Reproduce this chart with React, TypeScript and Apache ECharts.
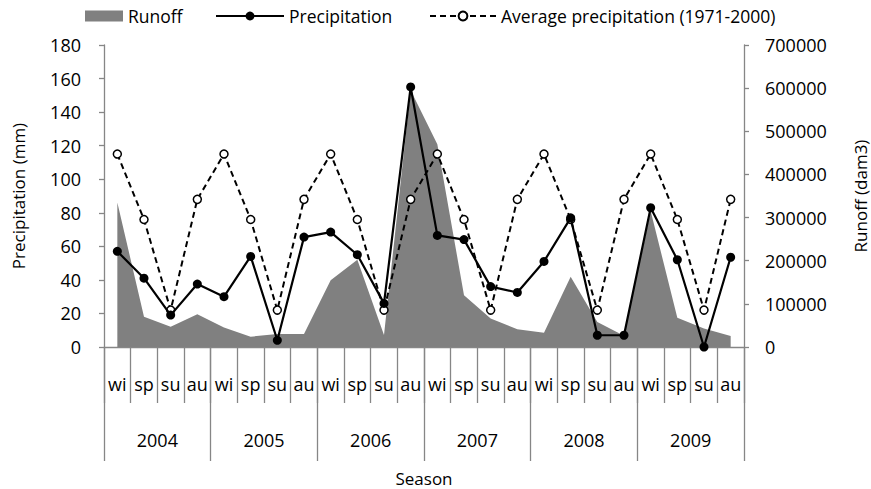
import React, { useEffect, useRef } from "react";
import * as echarts from "echarts";

const seasons = [
  "wi", "sp", "su", "au", "wi", "sp", "su", "au", "wi", "sp", "su", "au",
  "wi", "sp", "su", "au", "wi", "sp", "su", "au", "wi", "sp", "su", "au",
];
const years = ["2004", "2005", "2006", "2007", "2008", "2009"];

// Seasonal runoff (dam3), right axis
const runoff = [
  335000, 70000, 47000, 76000, 45000, 24000, 30000, 30000, 155000, 202000, 28000, 595000,
  470000, 120000, 66000, 41000, 33000, 163000, 58000, 26000, 315000, 68000, 43000, 25500,
];
// Seasonal precipitation (mm), left axis
const precipitation = [
  57, 41, 19, 37.5, 30, 54, 4, 65.5, 68.5, 55, 26, 155,
  66.5, 64, 36, 32.5, 51, 77, 7, 7, 83, 52, 0, 53.5,
];
// Long-term seasonal mean precipitation 1971-2000 (mm)
const avgPrecipitation = [
  115, 76, 22, 88, 115, 76, 22, 88, 115, 76, 22, 88,
  115, 76, 22, 88, 115, 76, 22, 88, 115, 76, 22, 88,
];

const FONT = "Open Sans";
const AXIS_GRAY = "#868686";

export default function App() {
  const ref = useRef<HTMLDivElement>(null);

  useEffect(() => {
    if (!ref.current) return;
    const chart = echarts.init(ref.current, null, { renderer: "svg" });
    const textStyle = { fontFamily: FONT, fontSize: 18, color: "#000" };
    const legendText = { ...textStyle, fontSize: 17.5 };
    chart.setOption({
      animation: false,
      textStyle,
      grid: { left: 104, right: 127, top: 45, bottom: 142, outerBoundsMode: "none" },
      legend: [
        {
          data: ["Runoff"],
          left: 80,
          top: 2,
          icon: "rect",
          itemWidth: 38,
          itemHeight: 11,
          itemGap: 6,
          textStyle: legendText,
        },
        {
          data: ["Precipitation"],
          left: 210,
          top: 2,
          itemWidth: 68,
          itemHeight: 11,
          textStyle: legendText,
        },
        {
          data: ["Average precipitation (1971-2000)"],
          left: 424,
          top: 2,
          itemWidth: 66,
          itemHeight: 11,
          textStyle: legendText,
        },
      ],
      xAxis: [
        {
          type: "category",
          data: seasons,
          position: "bottom",
          axisLine: { lineStyle: { color: AXIS_GRAY, width: 1.3 } },
          axisTick: { show: true, length: 56, lineStyle: { color: AXIS_GRAY, width: 1.3 } },
          axisLabel: { ...textStyle, margin: 28, interval: 0 },
        },
        {
          type: "category",
          data: years,
          position: "bottom",
          axisLine: { show: false },
          axisTick: { show: true, length: 114, lineStyle: { color: AXIS_GRAY, width: 1.3 } },
          axisLabel: { ...textStyle, margin: 84, interval: 0 },
          name: "Season",
          nameLocation: "middle",
          nameGap: 122,
          nameTextStyle: { ...textStyle, fontSize: 17, lineHeight: 18 },
        },
      ],
      yAxis: [
        {
          type: "value",
          min: 0,
          max: 180,
          interval: 20,
          position: "left",
          splitLine: { show: false },
          axisLine: { show: true, lineStyle: { color: AXIS_GRAY, width: 1.3 } },
          axisTick: { show: true, length: 5, lineStyle: { color: AXIS_GRAY, width: 1.3 } },
          axisLabel: { ...textStyle, margin: 23 },
          name: "Precipitation (mm)",
          nameLocation: "middle",
          nameGap: 77,
          nameTextStyle: { ...textStyle, fontSize: 17 },
        },
        {
          type: "value",
          min: 0,
          max: 700000,
          interval: 100000,
          position: "right",
          splitLine: { show: false },
          axisLine: { show: true, lineStyle: { color: AXIS_GRAY, width: 1.3 } },
          axisTick: { show: true, length: 5, lineStyle: { color: AXIS_GRAY, width: 1.3 } },
          axisLabel: { ...textStyle, margin: 21, formatter: (v: number) => String(v) },
          name: "Runoff (dam3)",
          nameLocation: "middle",
          nameGap: 108,
          nameRotate: 90,
          nameTextStyle: { ...textStyle, fontSize: 17 },
        },
      ],
      series: [
        {
          name: "Runoff",
          type: "line",
          xAxisIndex: 0,
          yAxisIndex: 1,
          data: runoff,
          showSymbol: false,
          symbol: "none",
          itemStyle: { color: "#808080" },
          lineStyle: { width: 0, color: "#808080" },
          areaStyle: { color: "#808080", opacity: 1 },
          z: 1,
        },
        {
          name: "Average precipitation (1971-2000)",
          type: "line",
          xAxisIndex: 0,
          yAxisIndex: 0,
          data: avgPrecipitation,
          symbol: "circle",
          symbolSize: 8,
          itemStyle: { color: "#fff", borderColor: "#000", borderWidth: 1.5 },
          lineStyle: { color: "#000", width: 2, type: [6, 4] },
          z: 3,
        },
        {
          name: "Precipitation",
          type: "line",
          xAxisIndex: 0,
          yAxisIndex: 0,
          data: precipitation,
          symbol: "circle",
          symbolSize: 9,
          itemStyle: { color: "#000" },
          lineStyle: { color: "#000", width: 2.2 },
          z: 4,
        },
      ],
    });
    return () => chart.dispose();
  }, []);

  return (
    <div
      ref={ref}
      style={{ position: "absolute", left: 0, top: 0, width: 871, height: 489 }}
    />
  );
}
